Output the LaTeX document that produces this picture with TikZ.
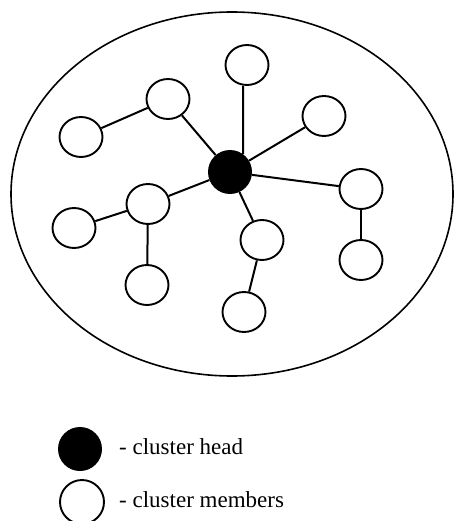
\documentclass[tikz,border=0pt]{standalone}
\usepackage{fontspec}
\setmainfont{Liberation Serif}
\usetikzlibrary{shapes.geometric}
\begin{document}
\begin{tikzpicture}[x=1pt,y=-1pt,
  member/.style={draw,line width=1.9pt,ellipse,minimum width=43pt,minimum height=40pt,inner sep=0pt,fill=white},
  head/.style={circle,fill=black,minimum size=44pt,inner sep=0pt},
  link/.style={line width=2pt},
  legendtext/.style={anchor=west,font=\fontsize{23}{27}\selectfont,inner sep=0pt}]
\useasboundingbox (0,0) rectangle (454,521);
\draw[line width=1.6pt] (232,194) ellipse [x radius=221, y radius=182];
\node[head] (h) at (230,172) {};
\node[member] (n1) at (247,65) {};
\node[member] (n2) at (168,99) {};
\node[member] (n3) at (81,137) {};
\node[member] (n4) at (324,116) {};
\node[member] (n5) at (361,189) {};
\node[member] (n6) at (361,260) {};
\node[member] (n7) at (148,204) {};
\node[member] (n8) at (74,228) {};
\node[member] (n9) at (147,285) {};
\node[member] (n10) at (262,240) {};
\node[member] (n11) at (244,312) {};
\draw[link] (h.54) -- ([xshift=-4pt]n1.south);
\draw[link] (h) -- (n2);
\draw[link] (h) -- (n4);
\draw[link] (h) -- (n5);
\draw[link] (h) -- (n7);
\draw[link] (h) -- (n10);
\draw[link] (n2) -- (n3);
\draw[link] (n7) -- (n8);
\draw[link] (n7) -- (n9);
\draw[link] (n5) -- (n6);
\draw[link] (n10) -- (n11);
\node[head] (lh) at (80,449) {};
\node[member,minimum width=44pt,minimum height=44pt] (lm) at (82,502) {};
\node[legendtext] (th) at (119,447) {- cluster head};
\node[legendtext] (tm) at (119,500) {- cluster members};
\end{tikzpicture}
\end{document}
